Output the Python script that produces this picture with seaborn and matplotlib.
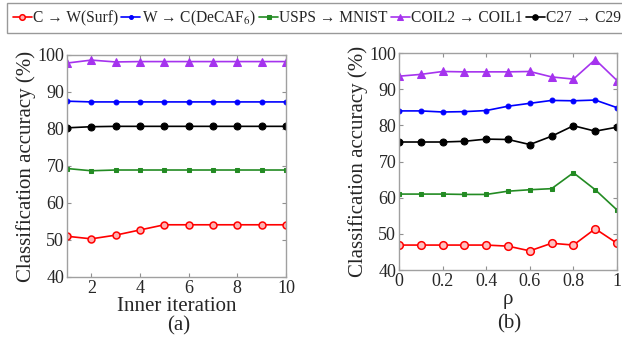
import numpy as np
import pandas as pd
import matplotlib
matplotlib.use("Agg")
import matplotlib.pyplot as plt
import seaborn as sns

# ---- data ----
series_names = ["C \u2192 W(Surf)", "W \u2192 C(DeCAF$_6$)", "USPS \u2192 MNIST",
                "COIL2 \u2192 COIL1", "C27 \u2192 C29"]

iters = [1, 2, 3, 4, 5, 6, 7, 8, 9, 10]
red_a = [51.0, 50.3, 51.3, 52.7, 54.1, 54.1, 54.1, 54.1, 54.1, 54.1]
blue_a = [87.5, 87.3, 87.3, 87.3, 87.3, 87.3, 87.3, 87.3, 87.3, 87.3]
green_a = [69.3, 68.7, 68.9, 68.9, 68.9, 68.9, 68.9, 68.9, 68.9, 68.9]
purple_a = [97.8, 98.6, 98.1, 98.2, 98.2, 98.2, 98.2, 98.2, 98.2, 98.2]
black_a = [80.3, 80.6, 80.7, 80.7, 80.7, 80.7, 80.7, 80.7, 80.7, 80.7]

rho = [0.0, 0.1, 0.2, 0.3, 0.4, 0.5, 0.6, 0.7, 0.8, 0.9, 1.0]
red_b = [46.9, 46.9, 46.9, 46.9, 46.9, 46.6, 45.3, 47.4, 46.9, 51.4, 47.4]
blue_b = [84.0, 84.0, 83.7, 83.8, 84.1, 85.3, 86.1, 86.9, 86.8, 87.0, 84.9]
green_b = [61.0, 61.0, 61.0, 60.9, 60.9, 61.8, 62.2, 62.5, 66.9, 62.2, 56.6]
purple_b = [93.6, 94.1, 94.9, 94.8, 94.8, 94.8, 94.9, 93.4, 92.8, 98.2, 92.4]
black_b = [75.4, 75.4, 75.4, 75.6, 76.2, 76.1, 74.7, 77.0, 79.9, 78.4, 79.5]

yticks = [40, 50, 60, 70, 80, 90, 100]
xticks_a = [2, 4, 6, 8, 10]
xticks_b = [0, 0.2, 0.4, 0.6, 0.8, 1.0]
xticklabels_b = ["0", "0.2", "0.4", "0.6", "0.8", "1"]

# ---- style ----
sns.set_style("white")
plt.rcParams['font.family'] = ['Liberation Serif', 'DejaVu Serif']
plt.rcParams['mathtext.fontset'] = 'stix'

colors = ["#ff0000", "#0000ff", "#238b23", "#a533ee", "#000000"]
markers = ["o", "o", "s", "^", "o"]
msizes = [5, 3.5, 3.5, 5.5, 5]

fig = plt.figure(figsize=(6.22, 3.39), dpi=100)
ax_a = fig.add_axes([0.1077, 0.183, 0.352, 0.655])
ax_b = fig.add_axes([0.6415, 0.2035, 0.3505, 0.640])

data_a = [red_a, blue_a, green_a, purple_a, black_a]
data_b = [red_b, blue_b, green_b, purple_b, black_b]

for i, name in enumerate(series_names):
    df = pd.DataFrame({"x": iters, "y": data_a[i]})
    if i == 0:
        sns.lineplot(data=df, x="x", y="y", ax=ax_a, color=colors[i], marker="o",
                     markersize=5, markerfacecolor="#ffb0b0", markeredgecolor=colors[i],
                     markeredgewidth=1.1, linewidth=1.2, label=name)
    else:
        sns.lineplot(data=df, x="x", y="y", ax=ax_a, color=colors[i], marker=markers[i],
                     markersize=msizes[i], markeredgecolor=colors[i], linewidth=1.2,
                     label=name)
    dfb = pd.DataFrame({"x": rho, "y": data_b[i]})
    if i == 0:
        sns.lineplot(data=dfb, x="x", y="y", ax=ax_b, color=colors[i], marker="o",
                     markersize=5.5, markerfacecolor="#ffc0c0", markeredgecolor=colors[i],
                     markeredgewidth=1.1, linewidth=1.2)
    else:
        sns.lineplot(data=dfb, x="x", y="y", ax=ax_b, color=colors[i], marker=markers[i],
                     markersize=msizes[i], markeredgecolor=colors[i], linewidth=1.2)

for ax in (ax_a, ax_b):
    ax.set_ylim(40, 100)
    ax.set_yticks(yticks)
    ax.tick_params(direction="in", length=3, color="#909090", labelsize=13,
                   top=True, right=True, bottom=True, left=True, pad=2)
    for sp in ax.spines.values():
        sp.set_color("#a0a0a0")
        sp.set_linewidth(1.0)
    ax.set_ylabel("Classification accuracy (%)", fontsize=15, labelpad=1)
    if ax.get_legend() is not None:
        ax.get_legend().remove()

ax_a.set_xlim(1, 10)
ax_a.set_xticks(xticks_a)
ax_a.set_xlabel("Inner iteration", fontsize=15, labelpad=0)
ax_b.set_xlim(0, 1)
ax_b.set_xticks(xticks_b)
ax_b.set_xticklabels(xticklabels_b)
ax_b.set_xlabel("\u03c1", fontsize=15, labelpad=0)

fig.text(0.288, 0.038, "(a)", fontsize=15, ha="center", va="center")
fig.text(0.818, 0.045, "(b)", fontsize=15, ha="center", va="center")

handles, labels = ax_a.get_legend_handles_labels()
leg = fig.legend(handles, labels, loc="upper left", bbox_to_anchor=(0.012, 0.99),
                 ncol=5, fontsize=11.2, frameon=True, fancybox=False,
                 handlelength=1.2, handletextpad=0.1, columnspacing=0.2,
                 borderpad=0.35, borderaxespad=0.0, markerscale=0.8)
leg.get_frame().set_edgecolor("#808080")
leg.get_frame().set_linewidth(1.0)

fig.savefig("out.png", dpi=100)
